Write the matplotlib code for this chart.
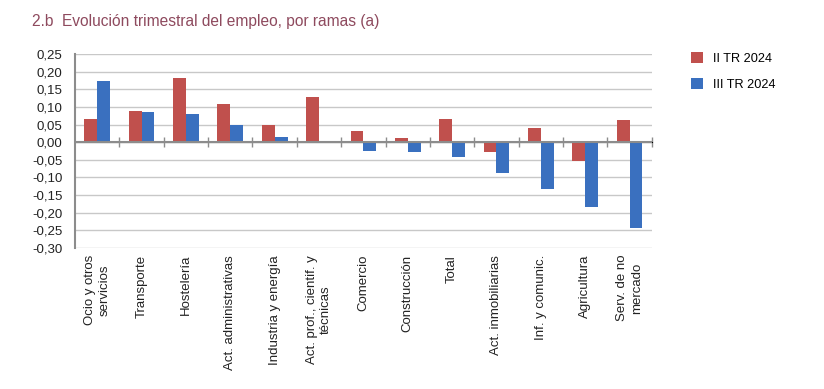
import matplotlib.pyplot as plt
import numpy as np

plt.rcParams['font.family'] = ['Liberation Sans', 'DejaVu Sans']

# data
categories = ["Ocio y otros\nservicios", "Transporte", "Hostelería", "Act. administrativas",
              "Industria y energía", "Act. prof., cientif. y\ntécnicas", "Comercio",
              "Construcción", "Total", "Act. inmobiliarias", "Inf. y comunic.",
              "Agricultura", "Serv. de no\nmercado"]
tr2 = [0.066, 0.089, 0.181, 0.109, 0.050, 0.129, 0.033, 0.012, 0.067, -0.027, 0.041, -0.052, 0.062]
tr3 = [0.174, 0.086, 0.079, 0.049, 0.016, 0.0, -0.025, -0.027, -0.042, -0.088, -0.134, -0.183, -0.243]
series_names = ["II TR 2024", "III TR 2024"]
yticks = [0.25, 0.20, 0.15, 0.10, 0.05, 0.0, -0.05, -0.10, -0.15, -0.20, -0.25, -0.30]

red = "#C0504D"
blue = "#3A70BF"

fig = plt.figure(figsize=(8.24, 3.89), dpi=100)
ax = fig.add_axes([0.091, 0.3625, 0.700, 0.4985])

x = np.arange(len(categories))
w = 0.29
ax.bar(x - w / 2, tr2, w, color=red, label=series_names[0], zorder=3)
ax.bar(x + w / 2, tr3, w, color=blue, label=series_names[1], zorder=3)

ax.set_xlim(-0.5, len(categories) - 0.5)
ax.set_ylim(-0.30, 0.25)
ax.set_yticks(yticks)
ax.set_yticklabels([f"{v:.2f}".replace(".", ",") for v in yticks], fontsize=9.5, color="#222222")
ax.yaxis.grid(True, color="#c8c8c8", linewidth=1.0, zorder=0)
ax.tick_params(axis="y", length=0, pad=9)

ax.set_xticks(x)
ax.set_xticklabels(categories, rotation=90, fontsize=9.5, color="#222222",
                   va="top", ha="center", multialignment="center", linespacing=1.25)
ax.tick_params(axis="x", length=0, pad=5)

for s in ["top", "right", "bottom"]:
    ax.spines[s].set_visible(False)
ax.spines["left"].set_color("#8c8c8c")
ax.spines["left"].set_linewidth(1.5)

# zero line with cross ticks between categories
ax.axhline(0, color="#8c8c8c", linewidth=1.5, zorder=4)
sec = ax.secondary_xaxis(0.3 / 0.55)
sec.set_xticks(np.arange(0.5, len(categories), 1.0))
sec.set_xticklabels([])
sec.tick_params(direction="inout", length=7, width=1, color="#8c8c8c")
sec.spines["bottom"].set_visible(False)

fig.text(0.039, 0.945, "2.b  Evolución trimestral del empleo, por ramas (a)",
         fontsize=11.2, color="#8E4A5E", va="center", ha="left")

fig.legend(loc="upper left", bbox_to_anchor=(0.825, 0.895), frameon=False,
           fontsize=9.2, handlelength=0.9, handleheight=0.9, labelspacing=1.05,
           handletextpad=0.8)

fig.savefig("out.png", dpi=100)
